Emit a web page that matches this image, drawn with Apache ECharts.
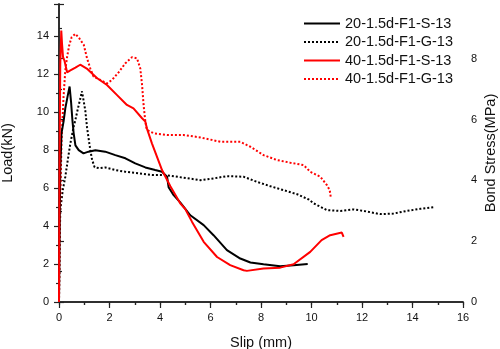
<!DOCTYPE html>
<html><head><meta charset="utf-8">
<script src="https://cdn.jsdelivr.net/npm/echarts@6/dist/echarts.min.js"></script>
<style>html,body{margin:0;padding:0;background:#fff}#c{width:500px;height:349px}</style>
</head><body><div id="c"></div>
<script>
const seriesNames = ['20-1.5d-F1-S-13', '20-1.5d-F1-G-13', '40-1.5d-F1-S-13', '40-1.5d-F1-G-13'];
const xTicks = [0, 2, 4, 6, 8, 10, 12, 14, 16];

const s20S_slip = [0, 0.02, 0.05, 0.1, 0.18, 0.25, 0.35, 0.42, 0.48, 0.53, 0.58, 0.65, 0.78, 0.97, 1.17, 1.44, 1.83, 2.23, 2.63, 3.02, 3.42, 3.81, 4.08, 4.28, 4.34, 4.54, 4.8, 5.2, 5.73, 6.12, 6.65, 7.18, 7.58, 8.1, 8.76, 9.29, 9.85];
const s20S_load = [0, 3, 7, 8.9, 9.5, 10.2, 10.9, 11.35, 10.5, 9.6, 8.9, 8.25, 8.0, 7.83, 7.92, 8.0, 7.92, 7.74, 7.57, 7.3, 7.09, 6.95, 6.86, 6.6, 6.05, 5.63, 5.25, 4.57, 4.05, 3.52, 2.73, 2.29, 2.08, 1.99, 1.88, 1.94, 2.0];

const s20G_slip = [0, 0.02, 0.05, 0.15, 0.25, 0.35, 0.45, 0.58, 0.65, 0.75, 0.84, 0.91, 1.04, 1.11, 1.24, 1.31, 1.41, 1.6, 1.83, 2.23, 2.63, 3.15, 3.68, 4.21, 4.93, 5.6, 6.12, 6.65, 7.31, 7.84, 8.37, 8.9, 9.43, 9.89, 10.08, 10.61, 11.14, 11.67, 12.06, 12.72, 13.25, 13.78, 14.31, 14.9];
const s20G_load = [0, 2.5, 4.84, 5.9, 6.6, 7.5, 8.36, 9.23, 9.6, 10.2, 10.7, 11.1, 10.1, 9.2, 8.0, 7.5, 7.1, 7.05, 7.09, 6.95, 6.86, 6.78, 6.69, 6.69, 6.55, 6.42, 6.51, 6.63, 6.6, 6.33, 6.1, 5.89, 5.68, 5.4, 5.2, 4.84, 4.8, 4.88, 4.8, 4.63, 4.66, 4.8, 4.91, 5.01];

const s40S_slip = [0, 0.02, 0.05, 0.09, 0.12, 0.16, 0.22, 0.32, 0.45, 0.65, 0.84, 1.1, 1.5, 1.9, 2.3, 2.69, 2.95, 3.29, 3.42, 3.48, 3.68, 4.08, 4.41, 4.8, 5.0, 5.27, 5.73, 6.26, 6.78, 7.31, 7.44, 8.1, 8.76, 9.29, 9.95, 10.4, 10.74, 11.2, 11.27];
const s40S_load = [0, 7, 12.5, 14.3, 13.6, 12.9, 12.7, 12.1, 12.2, 12.35, 12.5, 12.3, 11.8, 11.43, 10.9, 10.38, 10.2, 9.68, 9.5, 9.15, 8.36, 6.95, 6.1, 5.2, 4.9, 4.22, 3.17, 2.37, 1.94, 1.67, 1.64, 1.76, 1.81, 1.99, 2.64, 3.26, 3.52, 3.66, 3.43];

const s40G_slip = [0, 0.03, 0.1, 0.18, 0.25, 0.32, 0.4, 0.5, 0.65, 0.8, 0.98, 1.11, 1.24, 1.37, 1.64, 1.9, 2.1, 2.36, 2.63, 2.89, 3.09, 3.22, 3.29, 3.35, 3.42, 3.48, 3.75, 4.28, 4.93, 5.6, 6.39, 7.18, 7.58, 8.1, 8.63, 9.16, 9.69, 9.95, 10.35, 10.61, 10.72, 10.77];
const s40G_load = [0, 4, 8.5, 10.8, 12.2, 12.9, 13.5, 13.95, 14.13, 13.9, 13.55, 12.84, 12.3, 11.87, 11.7, 11.52, 11.7, 12.1, 12.58, 12.9, 12.84, 12.3, 11.43, 10.38, 9.5, 9.06, 8.89, 8.8, 8.8, 8.67, 8.44, 8.44, 8.18, 7.74, 7.48, 7.34, 7.21, 6.86, 6.6, 6.16, 5.9, 5.46];

function pairs(xs, ys) { return xs.map((x, i) => [x, ys[i]]); }

const chart = echarts.init(document.getElementById('c'), null, {renderer: 'canvas'});
const FONT = 'Liberation Sans, Arial, sans-serif';
const axisCol = '#222';
function mkSeries(name, xs, ys, color, dotted, z) {
  return {
    name: name, type: 'line', xAxisIndex: 0, yAxisIndex: 0,
    data: pairs(xs, ys), symbol: 'none', smooth: false, z: z,
    lineStyle: {color: color, width: 2, type: dotted ? [2, 2] : 'solid'},
    itemStyle: {color: color}
  };
}
chart.setOption({
  animation: false,
  backgroundColor: '#fff',
  grid: {left: 59, right: 37, top: 4, bottom: 47, containLabel: false, outerBoundsMode: 'none'},
  legend: {
    orient: 'vertical', left: 298, top: 11, itemWidth: 36, itemHeight: 14, itemGap: 3.5,
    data: seriesNames,
    itemStyle: {opacity: 0},
    textStyle: {fontFamily: FONT, fontSize: 14.5, lineHeight: 14, color: '#111'}
  },
  xAxis: [{
    type: 'value', position: 'bottom', min: 0, max: 16, interval: 2,
    name: 'Slip (mm)', nameLocation: 'middle', nameGap: 33, nameMoveOverlap: false,
    nameTextStyle: {fontFamily: FONT, fontSize: 14.5, color: '#111'},
    axisLine: {show: true, lineStyle: {color: axisCol, width: 1.5}},
    axisTick: {show: true, inside: false, length: 6, lineStyle: {color: axisCol, width: 1.2}},
    minorTick: {show: true, splitNumber: 2, length: 3, lineStyle: {color: axisCol, width: 1.2}},
    axisLabel: {fontFamily: FONT, fontSize: 11, color: '#111', margin: 10},
    splitLine: {show: false}
  }, {
    type: 'value', position: 'top', min: 0, max: 16, interval: 1,
    axisLine: {show: true, lineStyle: {color: axisCol, width: 1.5}},
    axisTick: {show: true, inside: true, length: 3, lineStyle: {color: axisCol, width: 1.2}},
    axisLabel: {show: false}, splitLine: {show: false}
  }],
  yAxis: [{
    type: 'value', position: 'left', min: 0, max: 15.7, interval: 2,
    name: 'Load(kN)', nameLocation: 'middle', nameGap: 44, nameRotate: 90, nameMoveOverlap: false,
    nameTextStyle: {fontFamily: FONT, fontSize: 14.5, color: '#111'},
    axisLine: {show: true, lineStyle: {color: axisCol, width: 1.5}},
    axisTick: {show: true, inside: false, length: 5, lineStyle: {color: axisCol, width: 1.2}},
    minorTick: {show: true, splitNumber: 2, length: 3, lineStyle: {color: axisCol, width: 1.2}},
    axisLabel: {fontFamily: FONT, fontSize: 11, color: '#111', margin: 10, showMaxLabel: false},
    splitLine: {show: false}
  }, {
    type: 'value', position: 'right', min: 0, max: 9.8, interval: 2,
    name: 'Bond Stress(MPa)', nameLocation: 'middle', nameGap: 20, nameRotate: 90, nameMoveOverlap: false,
    nameTextStyle: {fontFamily: FONT, fontSize: 14.5, color: '#111'},
    axisLine: {show: true, lineStyle: {color: axisCol, width: 1.5}},
    axisTick: {show: true, inside: false, length: 5, lineStyle: {color: axisCol, width: 1.2}},
    minorTick: {show: true, splitNumber: 2, length: 3, lineStyle: {color: axisCol, width: 1.2}},
    axisLabel: {fontFamily: FONT, fontSize: 11, color: '#111', margin: 8, showMaxLabel: false},
    splitLine: {show: false}
  }],
  series: [
    mkSeries(seriesNames[1], s20G_slip, s20G_load, '#000000', true, 2),
    mkSeries(seriesNames[3], s40G_slip, s40G_load, '#ff0000', true, 3),
    mkSeries(seriesNames[0], s20S_slip, s20S_load, '#000000', false, 4),
    mkSeries(seriesNames[2], s40S_slip, s40S_load, '#ff0000', false, 5)
  ]
});
</script></body></html>
